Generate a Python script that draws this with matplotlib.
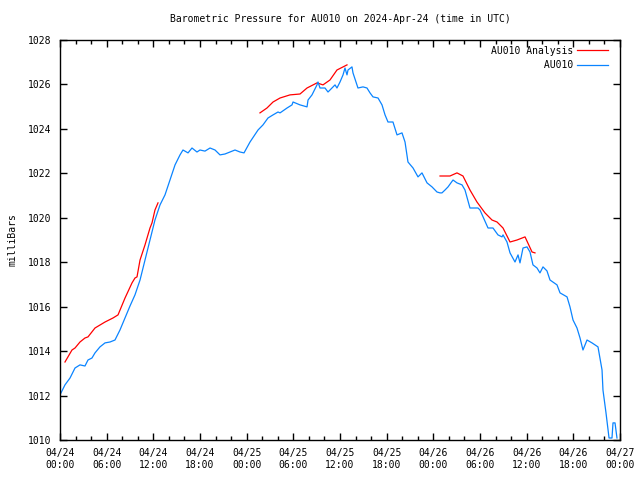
import numpy as np
import matplotlib
matplotlib.use("Agg")
import matplotlib.pyplot as plt
from matplotlib.ticker import MultipleLocator

# hours since 2024-04-24 00:00 UTC, pressure in mb
obs_hours = [0.0, 0.64, 1.29, 1.93, 2.57, 3.21, 3.6, 4.11, 4.5, 5.14, 5.79, 6.43, 7.07, 7.71,
             8.36, 9.0, 9.64, 10.29, 10.93, 11.57, 12.21, 12.86, 13.5, 14.14, 14.79, 15.43,
             15.81, 16.46, 16.97, 17.61, 18.0, 18.64, 19.29, 19.93, 20.57, 21.21, 21.86, 22.5,
             23.14, 23.66, 24.43, 25.46, 26.1, 26.74, 27.39, 28.03, 28.29, 29.19, 29.83, 29.96,
             30.86, 31.76, 31.89, 32.4, 33.04, 33.17, 33.43, 34.07, 34.46, 34.97, 35.36, 35.61,
             36.0, 36.39, 36.64, 36.9, 37.03, 37.54, 37.67, 38.19, 38.31, 38.96, 39.47, 39.86,
             40.24, 40.89, 41.4, 41.79, 42.17, 42.81, 43.33, 43.97, 44.36, 44.74, 45.39, 46.03,
             46.54, 47.19, 47.83, 48.47, 48.86, 49.11, 49.5, 49.89, 50.53, 51.04, 51.69, 52.07,
             52.71, 53.36, 53.74, 54.0, 54.39, 55.03, 55.67, 56.31, 56.83, 56.96, 57.47, 57.86,
             58.5, 58.89, 59.14, 59.53, 60.04, 60.43, 60.81, 61.33, 61.71, 62.1, 62.61, 63.0,
             63.9, 64.29, 65.19, 65.57, 65.96, 66.47, 66.86, 67.24, 67.76, 68.4, 69.17, 69.69,
             69.81, 70.2, 70.59, 70.97, 71.1, 71.36, 71.61]
obs_mb = [1012.03, 1012.48, 1012.79, 1013.24, 1013.38, 1013.33, 1013.6, 1013.69, 1013.92, 1014.19,
          1014.37, 1014.41, 1014.5, 1014.95, 1015.49, 1016.03, 1016.53, 1017.2, 1018.1, 1019.0,
          1019.9, 1020.58, 1021.03, 1021.7, 1022.38, 1022.83, 1023.05, 1022.92, 1023.14, 1022.96,
          1023.05, 1023.0, 1023.14, 1023.05, 1022.83, 1022.87, 1022.96, 1023.05, 1022.96, 1022.92,
          1023.41, 1023.95, 1024.18, 1024.49, 1024.63, 1024.76, 1024.72, 1024.94, 1025.08, 1025.21,
          1025.08, 1024.99, 1025.3, 1025.53, 1025.98, 1026.11, 1025.84, 1025.84, 1025.66, 1025.84,
          1025.98, 1025.84, 1026.11, 1026.43, 1026.74, 1026.43, 1026.65, 1026.79, 1026.52, 1025.98,
          1025.84, 1025.89, 1025.84, 1025.62, 1025.44, 1025.39, 1025.08, 1024.63, 1024.31, 1024.31,
          1023.73, 1023.82, 1023.41, 1022.51, 1022.24, 1021.84, 1022.02, 1021.57, 1021.39, 1021.16,
          1021.12, 1021.12, 1021.25, 1021.39, 1021.7, 1021.57, 1021.48, 1021.25, 1020.44, 1020.44,
          1020.44, 1020.35, 1020.04, 1019.54, 1019.54, 1019.23, 1019.14, 1019.23, 1018.91, 1018.42,
          1018.01, 1018.33, 1017.97, 1018.64, 1018.69, 1018.46, 1017.88, 1017.74, 1017.52, 1017.79,
          1017.61, 1017.2, 1016.98, 1016.62, 1016.44, 1015.99, 1015.4, 1015.04, 1014.59, 1014.05,
          1014.5, 1014.37, 1014.19, 1013.15, 1012.25, 1011.22, 1010.09, 1010.09, 1010.77, 1010.77,
          1010.09]

# analysis runs (three separate segments)
ana1_hours = [0.64, 1.54, 1.93, 2.57, 3.21, 3.6, 4.5, 5.79, 6.81, 7.46, 8.36, 9.26, 9.64, 9.9,
              10.29, 10.93, 11.57, 11.83, 12.21, 12.6]
ana1_mb = [1013.51, 1014.05, 1014.14, 1014.41, 1014.59, 1014.64, 1015.04, 1015.31, 1015.49,
           1015.63, 1016.39, 1017.07, 1017.29, 1017.34, 1018.1, 1018.78, 1019.54, 1019.77,
           1020.35, 1020.67]
ana2_hours = [25.71, 26.61, 27.39, 28.29, 29.57, 30.86, 31.76, 33.04, 33.81, 34.71, 35.61, 36.9]
ana2_mb = [1024.72, 1024.94, 1025.21, 1025.39, 1025.53, 1025.57, 1025.84, 1026.07, 1025.98,
           1026.2, 1026.65, 1026.88]
ana3_hours = [48.86, 50.14, 51.04, 51.81, 52.71, 53.61, 54.64, 55.54, 56.19, 56.96, 57.86,
              58.76, 59.79, 60.69, 61.07]
ana3_mb = [1021.88, 1021.88, 1022.02, 1021.88, 1021.25, 1020.71, 1020.22, 1019.9, 1019.81,
           1019.54, 1018.91, 1019.0, 1019.14, 1018.46, 1018.42]

tick_hours = [0, 6, 12, 18, 24, 30, 36, 42, 48, 54, 60, 66, 72]
tick_labels = ["04/24\n00:00", "04/24\n06:00", "04/24\n12:00", "04/24\n18:00",
               "04/25\n00:00", "04/25\n06:00", "04/25\n12:00", "04/25\n18:00",
               "04/26\n00:00", "04/26\n06:00", "04/26\n12:00", "04/26\n18:00",
               "04/27\n00:00"]

MONO = "DejaVu Sans Mono"
plt.rcParams["font.family"] = MONO
plt.rcParams["font.size"] = 7

# join analysis segments with gaps
ana_hours = ana1_hours + [np.nan] + ana2_hours + [np.nan] + ana3_hours
ana_mb = ana1_mb + [np.nan] + ana2_mb + [np.nan] + ana3_mb

fig = plt.figure(figsize=(6.4, 4.8), dpi=100)
ax = fig.add_axes([60 / 640, 40 / 480, 560 / 640, 400 / 480])

labels = ["AU010 Analysis", "AU010"]
width = max(len(s) for s in labels)
# gnuplot right-justifies key text; pad with spaces (monospace font)
ax.plot(ana_hours, ana_mb, color="#ff0000", lw=0.9, label=labels[0].rjust(width))
ax.plot(obs_hours, obs_mb, color="#0a84ff", lw=0.9, label=labels[1].rjust(width))

ax.set_xlim(0, 72)
ax.set_ylim(1010, 1028)
ax.set_xticks(tick_hours)
ax.set_xticklabels(tick_labels)
ax.xaxis.set_minor_locator(MultipleLocator(2))
ax.yaxis.set_major_locator(MultipleLocator(2))

ax.tick_params(which="both", direction="in", top=True, right=True, width=1)
ax.tick_params(which="major", length=5, pad=6)
ax.tick_params(which="minor", length=3)
for sp in ax.spines.values():
    sp.set_linewidth(1)

ax.set_ylabel("milliBars", labelpad=8)
fig.text(340 / 640, 1 - 19 / 480, "Barometric Pressure for AU010 on 2024-Apr-24 (time in UTC)",
         ha="center", va="center", fontsize=7)

ax.legend(loc="upper right", bbox_to_anchor=(1 - 6 / 560, 1), frameon=False,
          markerfirst=False, handlelength=3.2, handletextpad=0.4, labelspacing=0.45,
          borderaxespad=0.3, borderpad=0.3)

fig.savefig("out.png", dpi=100)
